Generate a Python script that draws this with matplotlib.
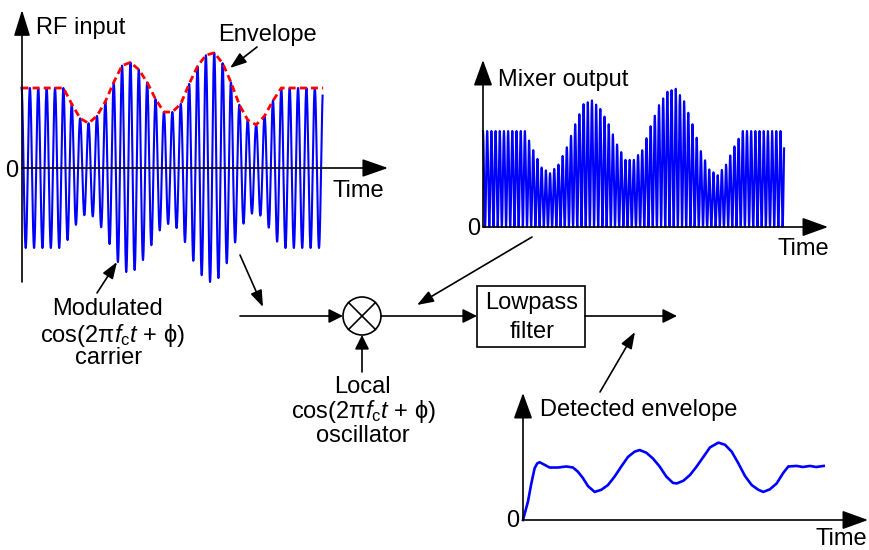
import matplotlib
matplotlib.use('Agg')
import matplotlib.pyplot as plt
import numpy as np
from matplotlib.patches import Rectangle, Circle

plt.rcParams['font.family'] = ['Liberation Sans', 'DejaVu Sans']
plt.rcParams['mathtext.fontset'] = 'custom'
plt.rcParams['mathtext.rm'] = 'Liberation Sans'
plt.rcParams['mathtext.it'] = 'Liberation Sans:italic'

W, H = 870, 550

# envelope of the RF input, one value per carrier peak (flat level = 1)
envelope = [1.0, 1.0, 1.0, 1.0, 1.0, 1.0,
            0.80, 0.62, 0.56, 0.65, 0.83, 1.07, 1.28, 1.32, 1.23, 1.07,
            0.86, 0.70, 0.70, 0.80, 1.05, 1.27, 1.41, 1.44, 1.31, 1.07,
            0.79, 0.60, 0.54, 0.65, 0.84,
            1.0, 1.0, 1.0, 1.0, 1.0, 1.0]
carrier_cycles = 35.93

# lowpass filter output, time in carrier cycles
detected_t = [0.0, 0.6, 1.0, 1.4, 1.72, 2.0, 2.6, 3.2, 4.2, 5.2, 6.0, 6.6,
              7.2, 7.8, 8.6, 9.4, 10.2, 11.0, 11.8, 12.6, 13.4, 14.0, 14.8,
              15.6, 16.4, 17.2, 18.0, 18.45, 19.25, 20.05, 20.85, 21.65,
              22.45, 23.45, 24.25, 25.05, 25.85, 26.65, 27.45, 28.25, 28.85,
              29.65, 30.45, 31.25, 31.85, 32.85, 33.6, 34.45, 35.2, 36.1]
detected_v = [0.0, 0.35, 0.69, 0.98, 1.07, 1.09, 1.04, 0.99, 0.99, 1.01,
              0.99, 0.91, 0.79, 0.64, 0.53, 0.57, 0.66, 0.82, 1.01, 1.19,
              1.29, 1.32, 1.27, 1.16, 1.01, 0.82, 0.70, 0.69, 0.74, 0.85,
              1.01, 1.19, 1.37, 1.46, 1.42, 1.29, 1.07, 0.83, 0.66, 0.57,
              0.53, 0.58, 0.69, 0.89, 1.01, 1.02, 1.00, 1.02, 1.00, 1.02]

cos_label = r'cos(2π$f_{\rm c}t$ + ϕ)'
BLUE = '#0000ff'
RED = '#ff0000'
FS = 17


def px_axes(fig, box, origin, scale):
    # axes placed in pixel units, data origin and px-per-unit given
    L, T, R, B = box
    x0, y0 = origin
    sx, sy = scale
    ax = fig.add_axes([L / W, 1 - B / H, (R - L) / W, (B - T) / H])
    ax.set_xlim((L - x0) / sx, (R - x0) / sx)
    ax.set_ylim((y0 - B) / sy, (y0 - T) / sy)
    ax.axis('off')
    return ax


fig = plt.figure(figsize=(W / 100, H / 100), dpi=100)

t = np.linspace(0, carrier_cycles, 6000)
env = np.interp(t, np.arange(len(envelope)), envelope)
lo = np.cos(2 * np.pi * t)
rf = env * lo
mixer = rf * lo

ax_rf = px_axes(fig, (10, 40, 340, 290), (21.5, 168), (8.38, 80))
ax_rf.plot(t, rf, color=BLUE, lw=1.5, clip_on=False)
ax_rf.plot(np.arange(len(envelope)), envelope, color=RED, lw=2,
           ls=(0, (2.5, 1.5)), clip_on=False)

ax_mix = px_axes(fig, (470, 70, 800, 235), (483, 227), (8.38, 96))
ax_mix.plot(t, mixer, color=BLUE, lw=1.5, clip_on=False)

ax_det = px_axes(fig, (510, 420, 840, 530), (523, 520), (8.33, 53))
ax_det.plot(detected_t, detected_v, color=BLUE, lw=1.9, clip_on=False)

# overlay in pixel coordinates for the block diagram and labels
ov = fig.add_axes([0, 0, 1, 1])
ov.set_xlim(0, W)
ov.set_ylim(H, 0)
ov.axis('off')


def arrow(tail, tip, hl, hw, lw=1.2):
    ov.annotate('', xy=tip, xytext=tail,
                arrowprops=dict(arrowstyle=f'-|>,head_length={hl},head_width={hw}',
                                color='k', lw=lw, shrinkA=0, shrinkB=0,
                                mutation_scale=1))


# plot axes
arrow((22, 282), (22, 10), 16, 5)
arrow((22, 168), (388, 168), 16, 5.6)
arrow((483, 227), (483, 60), 16, 5.8)
arrow((483, 227), (828, 227), 16, 5.8)
arrow((523, 520), (523, 393), 16, 5.8)
arrow((523, 520), (868, 520), 16, 5.8)

# block diagram
arrow((240, 316), (343, 316), 8.6, 4.3)
arrow((381, 316), (477, 316), 8.6, 4.3)
arrow((585, 316), (677, 316), 8.6, 4.3)
arrow((362, 372), (362, 335), 8.6, 4.3)
ov.add_patch(Circle((362, 316), 19, fc='white', ec='k', lw=1.2))
d = 19 * np.sqrt(0.5)
ov.plot([362 - d, 362 + d], [316 - d, 316 + d], color='k', lw=1.2)
ov.plot([362 - d, 362 + d], [316 + d, 316 - d], color='k', lw=1.2)
ov.add_patch(Rectangle((477, 286), 108, 61, fc='white', ec='k', lw=1.2))

# pointers
arrow((240, 255), (263, 307), 10, 3.6)
arrow((532, 237), (417, 305), 10, 3.6)
arrow((600, 392), (635, 332), 10, 3.6)
arrow((257, 47), (230, 68), 10, 3.6)
arrow((97, 293), (117, 262), 10, 3.6)

labels = [
    (36, 34, 'RF input', 'left'),
    (218, 41, 'Envelope', 'left'),
    (18, 177, '0', 'right'),
    (333, 197, 'Time', 'left'),
    (498, 86, 'Mixer output', 'left'),
    (480, 235, '0', 'right'),
    (778, 255, 'Time', 'left'),
    (540, 416, 'Detected envelope', 'left'),
    (519, 527, '0', 'right'),
    (816, 545, 'Time', 'left'),
    (108, 315, 'Modulated', 'center'),
    (112, 342, cos_label, 'center'),
    (109, 364, 'carrier', 'center'),
    (362, 393, 'Local', 'center'),
    (363, 418, cos_label, 'center'),
    (363, 442, 'oscillator', 'center'),
    (532, 309, 'Lowpass', 'center'),
    (532, 338, 'filter', 'center'),
]
for x, y, s, ha in labels:
    ov.text(x, y, s, ha=ha, va='baseline', fontsize=FS)

fig.savefig('out.png', dpi=100)
